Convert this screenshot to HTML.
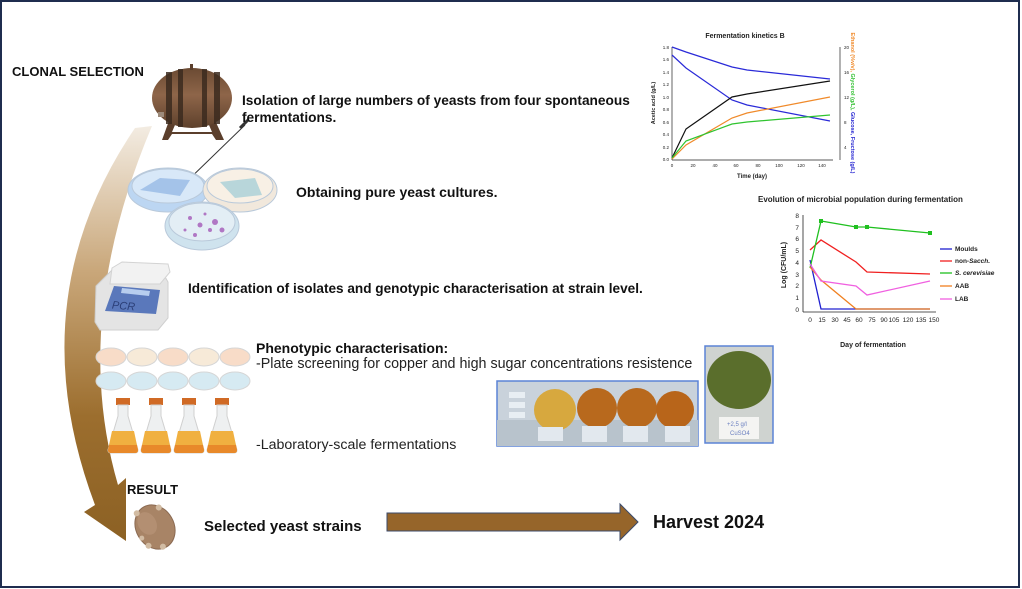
<!DOCTYPE html>
<html><head><meta charset="utf-8"><style>
html,body{margin:0;padding:0;background:#fff;}
svg{display:block;font-family:"Liberation Sans",sans-serif;}
</style></head><body>
<svg width="1022" height="589" viewBox="0 0 1022 589" xmlns="http://www.w3.org/2000/svg">
<defs>
<linearGradient id="ag" x1="0" y1="0" x2="0" y2="1">
<stop offset="0" stop-color="#f3ece2"/><stop offset="0.35" stop-color="#c9a77a"/><stop offset="0.7" stop-color="#9c6e2e"/><stop offset="1" stop-color="#8c6124"/></linearGradient>
<linearGradient id="bar" x1="0" y1="0" x2="0" y2="1">
<stop offset="0" stop-color="#6b4a33"/><stop offset="0.45" stop-color="#8e6549"/><stop offset="1" stop-color="#5e412c"/></linearGradient>
</defs>
<rect x="1" y="1" width="1018" height="586" fill="#fff" stroke="#1f2d4f" stroke-width="2"/>

<!-- big curved arrow -->
<path d="M135,128 Q18,300 95,505 L84,512 L126,541 L126,478 L118,485 Q70,320 152,126 Z" fill="url(#ag)"/>

<text x="12" y="76" font-size="13" font-weight="bold" fill="#111">CLONAL SELECTION</text>

<!-- barrel -->
<g>
<path d="M162,140 L170,118 L178,118 L172,132 L212,132 L206,118 L214,118 L224,140 L216,140 L212,134 L172,134 L168,140 Z" fill="#5b3f2c"/>
<ellipse cx="192" cy="98" rx="40" ry="30" fill="url(#bar)"/>
<rect x="166" y="72" width="6" height="52" fill="#3b2a1f" opacity="0.85"/>
<rect x="178" y="69" width="5" height="58" fill="#3b2a1f" opacity="0.85"/>
<rect x="202" y="69" width="5" height="58" fill="#3b2a1f" opacity="0.85"/>
<rect x="214" y="72" width="6" height="52" fill="#3b2a1f" opacity="0.85"/>
<rect x="190" y="64" width="3" height="6" fill="#5b3f2c"/>
<rect x="158" y="112" width="6" height="5" fill="#9d8b7b"/>
</g>
<line x1="245" y1="125" x2="180" y2="188" stroke="#333" stroke-width="1"/>
<line x1="240" y1="128" x2="248" y2="120" stroke="#333" stroke-width="3"/>
<circle cx="180" cy="188" r="2" fill="none" stroke="#333"/>

<text x="242" y="105" font-size="13.7" font-weight="bold" fill="#111">Isolation of large numbers of yeasts from four spontaneous</text>
<text x="242" y="122" font-size="13.7" font-weight="bold" fill="#111">fermentations.</text>

<!-- petri dishes -->
<g stroke="#b9c9da" stroke-width="1">
<ellipse cx="168" cy="190" rx="40" ry="22" fill="#bcd6f2"/>
<ellipse cx="168" cy="186" rx="36" ry="17" fill="#d8e8f8"/>
<ellipse cx="240" cy="190" rx="37" ry="22" fill="#f1e8dc"/>
<ellipse cx="240" cy="186" rx="33" ry="17" fill="#f8f0e5"/>
<ellipse cx="202" cy="226" rx="37" ry="24" fill="#cfe3ee"/>
<ellipse cx="202" cy="222" rx="33" ry="19" fill="#e3eef5"/>
</g>
<path d="M140,190 L160,178 L190,180 L180,196 Z" fill="#8fb3e3" opacity="0.7"/>
<path d="M220,182 L255,178 L262,195 L235,198 Z" fill="#9ccad6" opacity="0.7"/>
<g fill="#a45ab8" opacity="0.8">
<circle cx="190" cy="218" r="2"/><circle cx="200" cy="225" r="2.5"/><circle cx="215" cy="222" r="3"/><circle cx="210" cy="230" r="2"/><circle cx="222" cy="230" r="2.5"/><circle cx="185" cy="230" r="1.5"/><circle cx="205" cy="214" r="1.5"/><circle cx="195" cy="235" r="2"/>
</g>
<text x="296" y="197" font-size="14" font-weight="bold" fill="#111">Obtaining pure yeast cultures.</text>

<!-- PCR -->
<path d="M96,286 L112,270 L160,268 L168,282 L168,318 L158,330 L100,330 L95,322 Z" fill="#e4e4e4" stroke="#cfcfcf"/>
<path d="M112,268 L122,262 L168,264 L170,272 L160,284 L110,284 Z" fill="#f2f2f2" stroke="#d3d3d3"/>
<path d="M114,286 L160,290 L156,314 L105,311 Z" fill="#5a78bb"/>
<path d="M122,288 L150,291 L149,296 L121,293 Z" fill="#b7cdee"/>
<text x="112" y="309" font-size="11" fill="#2b3f78" font-style="italic" transform="rotate(5 118 305)">PCR</text>
<text x="188" y="293" font-size="13.6" font-weight="bold" fill="#111">Identification of isolates and genotypic characterisation at strain level.</text>

<!-- plate grid -->
<g stroke="#d6d6d6" stroke-width="1">
<ellipse cx="111" cy="357" rx="15" ry="9" fill="#f8dcc8"/>
<ellipse cx="142" cy="357" rx="15" ry="9" fill="#f7ead8"/>
<ellipse cx="173" cy="357" rx="15" ry="9" fill="#f8dcc8"/>
<ellipse cx="204" cy="357" rx="15" ry="9" fill="#f7ead8"/>
<ellipse cx="235" cy="357" rx="15" ry="9" fill="#f8dcc8"/>
<ellipse cx="111" cy="381" rx="15" ry="9" fill="#d6eaf2"/>
<ellipse cx="142" cy="381" rx="15" ry="9" fill="#d6eaf2"/>
<ellipse cx="173" cy="381" rx="15" ry="9" fill="#d6eaf2"/>
<ellipse cx="204" cy="381" rx="15" ry="9" fill="#d6eaf2"/>
<ellipse cx="235" cy="381" rx="15" ry="9" fill="#d6eaf2"/>
</g>
<!-- flasks -->
<g>
<g transform="translate(108,398)"><rect x="8" y="0" width="14" height="7" fill="#d06a25"/><path d="M10,7 L20,7 L20,18 L30,52 Q30,55 27,55 L3,55 Q0,55 0,52 L10,18 Z" fill="#eef0f1" stroke="#d0d0d0"/><path d="M4,33 L26,33 L30,52 Q30,55 27,55 L3,55 Q0,55 0,52 Z" fill="#f0b040"/><path d="M1,47 L29,47 L30,52 Q30,55 27,55 L3,55 Q0,55 0,52 Z" fill="#e8892a"/></g>
<g transform="translate(141,398)"><rect x="8" y="0" width="14" height="7" fill="#d06a25"/><path d="M10,7 L20,7 L20,18 L30,52 Q30,55 27,55 L3,55 Q0,55 0,52 L10,18 Z" fill="#eef0f1" stroke="#d0d0d0"/><path d="M4,33 L26,33 L30,52 Q30,55 27,55 L3,55 Q0,55 0,52 Z" fill="#f0b040"/><path d="M1,47 L29,47 L30,52 Q30,55 27,55 L3,55 Q0,55 0,52 Z" fill="#e8892a"/></g>
<g transform="translate(174,398)"><rect x="8" y="0" width="14" height="7" fill="#d06a25"/><path d="M10,7 L20,7 L20,18 L30,52 Q30,55 27,55 L3,55 Q0,55 0,52 L10,18 Z" fill="#eef0f1" stroke="#d0d0d0"/><path d="M4,33 L26,33 L30,52 Q30,55 27,55 L3,55 Q0,55 0,52 Z" fill="#f0b040"/><path d="M1,47 L29,47 L30,52 Q30,55 27,55 L3,55 Q0,55 0,52 Z" fill="#e8892a"/></g>
<g transform="translate(207,398)"><rect x="8" y="0" width="14" height="7" fill="#d06a25"/><path d="M10,7 L20,7 L20,18 L30,52 Q30,55 27,55 L3,55 Q0,55 0,52 L10,18 Z" fill="#eef0f1" stroke="#d0d0d0"/><path d="M4,33 L26,33 L30,52 Q30,55 27,55 L3,55 Q0,55 0,52 Z" fill="#f0b040"/><path d="M1,47 L29,47 L30,52 Q30,55 27,55 L3,55 Q0,55 0,52 Z" fill="#e8892a"/></g>
</g>

<text x="256" y="353" font-size="14" font-weight="bold" fill="#111">Phenotypic characterisation:</text>
<text x="256" y="368" font-size="14.3" fill="#222">-Plate screening for copper and high sugar concentrations resistence</text>
<text x="256" y="449" font-size="14.2" fill="#222">-Laboratory-scale fermentations</text>

<!-- photos -->
<rect x="497" y="381" width="201" height="65" fill="#c9d2db" stroke="#5b83d6" stroke-width="1.5"/>
<rect x="497" y="420" width="201" height="26" fill="#b8c3cc"/>
<circle cx="555" cy="410" r="21" fill="#d7a83e"/><circle cx="597" cy="408" r="20" fill="#b8691d"/><circle cx="637" cy="408" r="20" fill="#b8691d"/><circle cx="675" cy="410" r="19" fill="#b8651a"/>
<rect x="509" y="392" width="16" height="6" fill="#e8eef3"/><rect x="509" y="402" width="16" height="6" fill="#e8eef3"/><rect x="509" y="412" width="16" height="6" fill="#e8eef3"/>
<rect x="538" y="427" width="25" height="14" fill="#e2e8ee"/><rect x="582" y="426" width="25" height="16" fill="#e2e8ee"/><rect x="623" y="426" width="25" height="16" fill="#e2e8ee"/><rect x="665" y="426" width="25" height="16" fill="#e2e8ee"/>
<rect x="705" y="346" width="68" height="97" fill="#cfd3d0" stroke="#5b83d6" stroke-width="1.5"/>
<ellipse cx="739" cy="380" rx="32" ry="29" fill="#5a6e2c"/>
<rect x="719" y="417" width="40" height="22" fill="#f4f4f2"/>
<text x="727" y="426" font-size="6" fill="#6a7fc0">+2,5 g/l</text>
<text x="730" y="435" font-size="6" fill="#6a7fc0">CuSO4</text>

<!-- result -->
<text x="127" y="494" font-size="13" font-weight="bold" fill="#111">RESULT</text>
<g transform="rotate(-30 155 527)">
<ellipse cx="155" cy="527" rx="19" ry="23" fill="#a88466" stroke="#8b6a52"/>
<ellipse cx="150" cy="520" rx="9" ry="12" fill="#b89478" opacity="0.7"/>
<circle cx="146" cy="506" r="3" fill="#d2bca3"/><circle cx="168" cy="512" r="3" fill="#d2bca3"/><circle cx="140" cy="540" r="3" fill="#d2bca3"/><circle cx="152" cy="548" r="3" fill="#d2bca3"/><circle cx="138" cy="530" r="2.5" fill="#d2bca3"/>
</g>
<text x="204" y="531" font-size="15" font-weight="bold" fill="#111">Selected yeast strains</text>
<path d="M387,513 L620,513 L620,504 L638,522 L620,540 L620,531 L387,531 Z" fill="#96652a" stroke="#3b4a6a" stroke-width="1"/>
<text x="653" y="528" font-size="18" font-weight="bold" fill="#111" font-family="Liberation Sans Narrow, Liberation Sans, sans-serif">Harvest 2024</text>

<!-- chart 1 -->
<g font-size="4.5" fill="#222">
<text x="745" y="38" font-size="7" font-weight="bold" text-anchor="middle">Fermentation kinetics B</text>
<line x1="672" y1="47" x2="672" y2="160" stroke="#222" stroke-width="0.7"/>
<line x1="672" y1="160" x2="833" y2="160" stroke="#222" stroke-width="0.7"/>
<line x1="840" y1="47" x2="840" y2="160" stroke="#222" stroke-width="0.7"/>
<text x="669" y="49" text-anchor="end">1.8</text><text x="669" y="61" text-anchor="end">1.6</text><text x="669" y="74" text-anchor="end">1.4</text><text x="669" y="86" text-anchor="end">1.2</text><text x="669" y="99" text-anchor="end">1.0</text><text x="669" y="111" text-anchor="end">0.8</text><text x="669" y="124" text-anchor="end">0.6</text><text x="669" y="136" text-anchor="end">0.4</text><text x="669" y="149" text-anchor="end">0.2</text><text x="669" y="161" text-anchor="end">0.0</text>
<text x="672" y="167" text-anchor="middle">0</text><text x="693" y="167" text-anchor="middle">20</text><text x="715" y="167" text-anchor="middle">40</text><text x="736" y="167" text-anchor="middle">60</text><text x="758" y="167" text-anchor="middle">80</text><text x="779" y="167" text-anchor="middle">100</text><text x="801" y="167" text-anchor="middle">120</text><text x="822" y="167" text-anchor="middle">140</text>
<text x="752" y="178" font-size="6" font-weight="bold" text-anchor="middle">Time (day)</text>
<text transform="translate(655 103) rotate(-90)" font-size="5.5" font-weight="bold" text-anchor="middle">Acetic acid (g/L)</text>
<text transform="translate(851 103) rotate(90)" font-size="5.5" font-weight="bold" text-anchor="middle"><tspan fill="#f08a2a">Ethanol (%v/v),</tspan> <tspan fill="#2fbf2f">Glycerol (g/L),</tspan> <tspan fill="#2020d0">Glucose, Fructose (g/L)</tspan></text>
<text x="844" y="49">20</text><text x="844" y="74">16</text><text x="844" y="99">12</text><text x="844" y="124">8</text><text x="844" y="149">4</text>
</g>
<g fill="none" stroke-width="1.2">
<polyline points="672,47 686,52 732,67 747,70 830,79" stroke="#2a2ad8"/>
<polyline points="672,55 686,68 732,100 747,105 830,121" stroke="#2a2ad8"/>
<polyline points="672,158 686,129 732,97 747,94 830,81" stroke="#111"/>
<polyline points="672,159 686,145 732,118 747,113 830,97" stroke="#f08a2a"/>
<polyline points="672,158 686,141 732,124 747,122 830,115" stroke="#2fc42f"/>
</g>

<!-- chart 2 -->
<g font-size="6.5" fill="#222">
<text x="758" y="202" font-size="8" font-weight="bold">Evolution of microbial population during fermentation</text>
<line x1="803" y1="215" x2="803" y2="312" stroke="#222" stroke-width="0.8"/>
<line x1="803" y1="312" x2="936" y2="312" stroke="#222" stroke-width="0.8"/>
<text x="799" y="218" text-anchor="end">8</text><text x="799" y="230" text-anchor="end">7</text><text x="799" y="241" text-anchor="end">6</text><text x="799" y="253" text-anchor="end">5</text><text x="799" y="265" text-anchor="end">4</text><text x="799" y="277" text-anchor="end">3</text><text x="799" y="288" text-anchor="end">2</text><text x="799" y="300" text-anchor="end">1</text><text x="799" y="312" text-anchor="end">0</text>
<text x="810" y="322" text-anchor="middle">0</text><text x="822" y="322" text-anchor="middle">15</text><text x="835" y="322" text-anchor="middle">30</text><text x="847" y="322" text-anchor="middle">45</text><text x="859" y="322" text-anchor="middle">60</text><text x="872" y="322" text-anchor="middle">75</text><text x="884" y="322" text-anchor="middle">90</text><text x="894" y="322" text-anchor="middle">105</text><text x="908" y="322" text-anchor="middle">120</text><text x="921" y="322" text-anchor="middle">135</text><text x="934" y="322" text-anchor="middle">150</text>
<text x="873" y="347" font-size="7" font-weight="bold" text-anchor="middle">Day of fermentation</text>
<text transform="translate(786 265) rotate(-90)" font-size="7" font-weight="bold" text-anchor="middle">Log (CFU/mL)</text>
<text x="955" y="251" font-weight="bold">Moulds</text>
<text x="955" y="263" font-weight="bold">non-<tspan font-style="italic">Sacch.</tspan></text>
<text x="955" y="275" font-weight="bold" font-style="italic">S. cerevisiae</text>
<text x="955" y="288" font-weight="bold">AAB</text>
<text x="955" y="301" font-weight="bold">LAB</text>
</g>
<g stroke-width="1.3">
<line x1="940" y1="249" x2="952" y2="249" stroke="#2020d0"/><line x1="940" y1="261" x2="952" y2="261" stroke="#f02020"/><line x1="940" y1="273" x2="952" y2="273" stroke="#20c020"/><line x1="940" y1="286" x2="952" y2="286" stroke="#f08020"/><line x1="940" y1="299" x2="952" y2="299" stroke="#f060e0"/>
</g>
<g fill="none" stroke-width="1.3">
<polyline points="810,260 821,309 856,309 867,309 930,309" stroke="#2020d0"/>
<polyline points="810,250 821,240 856,262 867,272 930,274" stroke="#f02020"/>
<polyline points="810,268 821,221 856,227 867,227 930,233" stroke="#20c020"/>
<polyline points="810,267 821,280 856,309 867,309 930,309" stroke="#f08020"/>
<polyline points="810,264 821,281 856,286 867,295 930,281" stroke="#f060e0"/>
</g>
<g fill="#20c020"><rect x="819" y="219" width="4" height="4"/><rect x="854" y="225" width="4" height="4"/><rect x="865" y="225" width="4" height="4"/><rect x="928" y="231" width="4" height="4"/></g>
</svg>
</body></html>
